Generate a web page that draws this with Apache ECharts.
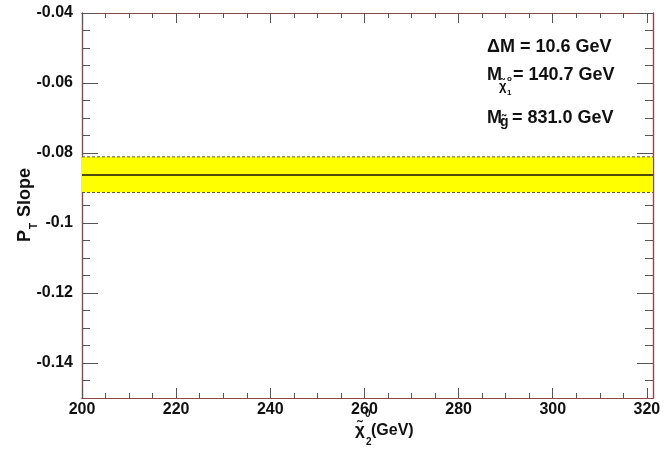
<!DOCTYPE html>
<html>
<head>
<meta charset="utf-8">
<script src="https://cdn.jsdelivr.net/npm/echarts@6/dist/echarts.min.js"></script>
<style>html,body{margin:0;padding:0;background:#fff}#c{width:664px;height:450px}</style>
</head>
<body>
<div id="c"></div>
<script>
// ---- data ----
var xRange = [200, 321.3];
var yRange = [-0.15, -0.04];
var xMajorTicks = [200, 220, 240, 260, 280, 300, 320];
var xMinorTicks = [205, 210, 215, 225, 230, 235, 245, 250, 255, 265, 270, 275, 285, 290, 295, 305, 310, 315];
var yMajorTicks = [-0.14, -0.12, -0.1, -0.08, -0.06, -0.04];
var yMinorTicks = [-0.145, -0.135, -0.13, -0.125, -0.115, -0.11, -0.105, -0.095, -0.09, -0.085, -0.075, -0.07, -0.065, -0.055, -0.05, -0.045];
var xPoints = [200, 321.3];
var slopeCentral = [-0.0863, -0.0863];
var slopeUpper = [-0.0811, -0.0811];
var slopeLower = [-0.0913, -0.0913];

var FONT = '"Liberation Sans", Arial, sans-serif';
var frameColor = '#8c4747';
var tickColor = '#555555';

function pairs(xs, ys) { return xs.map(function (x, i) { return [x, ys[i]]; }); }

function xAx(pos, ticks, len, labels) {
  return {
    type: 'value', position: pos, min: xRange[0], max: xRange[1],
    axisLine: { show: true, onZero: false, lineStyle: { color: frameColor, width: 1.2 } },
    axisTick: { show: true, inside: true, length: len, customValues: ticks, lineStyle: { color: tickColor, width: 1 } },
    axisLabel: labels ? { show: true, customValues: ticks, margin: 4, color: '#111', fontFamily: FONT, fontWeight: 'bold', fontSize: 16 } : { show: false },
    splitLine: { show: false }
  };
}
function yAx(pos, ticks, len, labels) {
  return {
    type: 'value', position: pos, min: yRange[0], max: yRange[1],
    axisLine: { show: true, onZero: false, lineStyle: { color: frameColor, width: 1.2 } },
    axisTick: { show: true, inside: true, length: len, customValues: ticks, lineStyle: { color: tickColor, width: 1 } },
    axisLabel: labels ? { show: true, customValues: ticks, margin: 9, color: '#111', fontFamily: FONT, fontWeight: 'bold', fontSize: 16 } : { show: false },
    splitLine: { show: false }
  };
}

var chart = echarts.init(document.getElementById('c'), null, { renderer: 'canvas' });
chart.setOption({
  animation: false,
  backgroundColor: '#ffffff',
  grid: { left: 82, right: 11, top: 13, bottom: 52, containLabel: false },
  xAxis: [
    xAx('bottom', xMajorTicks, 10, true),
    xAx('bottom', xMinorTicks, 5, false),
    xAx('top', xMajorTicks, 10, false),
    xAx('top', xMinorTicks, 5, false)
  ],
  yAxis: [
    yAx('left', yMajorTicks, 16, true),
    yAx('left', yMinorTicks, 8, false),
    yAx('right', yMajorTicks, 16, false),
    yAx('right', yMinorTicks, 8, false)
  ],
  series: [
    {
      type: 'line', name: 'central', data: pairs(xPoints, slopeCentral), symbol: 'none', z: 5,
      lineStyle: { color: '#111', width: 1.5 },
      markArea: {
        silent: true,
        itemStyle: { color: '#ffff00', opacity: 1 },
        data: [[{ xAxis: xPoints[0], yAxis: slopeLower[0] }, { xAxis: xPoints[1], yAxis: slopeUpper[0] }]]
      }
    },
    {
      type: 'line', name: 'upper', data: pairs(xPoints, slopeUpper), symbol: 'none', z: 4,
      lineStyle: { color: '#555', width: 1, type: [3, 2] }
    },
    {
      type: 'line', name: 'lower', data: pairs(xPoints, slopeLower), symbol: 'none', z: 4,
      lineStyle: { color: '#555', width: 1, type: [3, 2] }
    }
  ],
  graphic: [
    // annotations
    { type: 'text', left: 487, top: 38, style: { text: 'ΔM = 10.6 GeV', font: 'bold 18px ' + FONT, fill: '#111' } },
    { type: 'text', left: 487, top: 66, style: { text: 'M', font: 'bold 18px ' + FONT, fill: '#111' } },
    { type: 'text', left: 499, top: 80, style: { text: 'χ̃', font: 'bold 13px ' + FONT, fill: '#111' } },
    { type: 'text', left: 507, top: 75, style: { text: 'o', font: 'bold 8px ' + FONT, fill: '#111' } },
    { type: 'text', left: 507, top: 89, style: { text: '1', font: 'bold 8px ' + FONT, fill: '#111' } },
    { type: 'text', left: 513, top: 66, style: { text: '= 140.7 GeV', font: 'bold 18px ' + FONT, fill: '#111' } },
    { type: 'text', left: 487, top: 109, style: { text: 'M', font: 'bold 18px ' + FONT, fill: '#111' } },
    { type: 'text', left: 500, top: 115, style: { text: 'g̃', font: 'bold 14px ' + FONT, fill: '#111' } },
    { type: 'text', left: 512, top: 109, style: { text: '= 831.0 GeV', font: 'bold 18px ' + FONT, fill: '#111' } },
    // x axis title
    { type: 'text', left: 355, top: 422, style: { text: 'χ̃', font: 'bold 17px ' + FONT, fill: '#111' } },
    { type: 'text', left: 365, top: 409, style: { text: '0', font: 'bold 10px ' + FONT, fill: '#111' } },
    { type: 'text', left: 366, top: 437, style: { text: '2', font: 'bold 10px ' + FONT, fill: '#111' } },
    { type: 'text', left: 371, top: 423, style: { text: '(GeV)', font: 'bold 16px ' + FONT, fill: '#111' } },
    // y axis title (rotated)
    {
      type: 'group', x: 25, y: 242, rotation: Math.PI / 2,
      children: [
        { type: 'text', x: 0, y: 0, style: { text: 'P', font: 'bold 18px ' + FONT, fill: '#111', verticalAlign: 'middle', align: 'left' } },
        { type: 'text', x: 13, y: 9, style: { text: 'T', font: 'bold 10px ' + FONT, fill: '#111', verticalAlign: 'middle', align: 'left' } },
        { type: 'text', x: 25, y: 0, style: { text: 'Slope', font: 'bold 18px ' + FONT, fill: '#111', verticalAlign: 'middle', align: 'left' } }
      ]
    }
  ]
});
</script>
</body>
</html>
